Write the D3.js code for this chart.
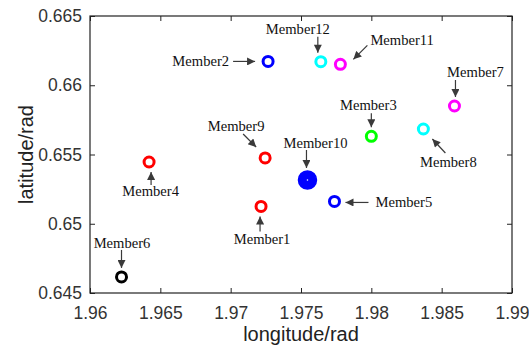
<!DOCTYPE html>
<html>
<head>
<meta charset="utf-8">
<script src="https://cdn.jsdelivr.net/npm/d3@7"></script>
<style>
  html, body { margin: 0; padding: 0; background: #fff; }
  svg { display: block; }
</style>
</head>
<body>
<div id="chart"></div>
<script>
// members
const members = ['Member1','Member2','Member3','Member4','Member5','Member6',
                 'Member7','Member8','Member9','Member10','Member11','Member12'];
const longitude = [1.97216, 1.97266, 1.98000, 1.96420, 1.97738, 1.96224,
                   1.98591, 1.98370, 1.97245, 1.97546, 1.97780, 1.97641];
const latitude  = [0.65125, 0.66172, 0.65631, 0.65446, 0.65161, 0.64616,
                   0.65850, 0.65684, 0.65475, 0.65316, 0.66151, 0.66170];
const colors = ['#ff0000','#0000ff','#00ff00','#ff0000','#0000ff','#000000',
                '#ff00ff','#00ffff','#ff0000','#0000ff','#ff00ff','#00ffff'];
const filled = ['Member10'];

const xTicks = [1.96, 1.965, 1.97, 1.975, 1.98, 1.985, 1.99];
const yTicks = [0.645, 0.65, 0.655, 0.66, 0.665];

// annotation layout (pixel offsets from the point): arrow tail, arrow head, label
const notes = {
  Member1:  { tail: [-1, 25],  head: [-1, 10],  label: [1, 38],    anchor: 'middle' },
  Member2:  { tail: [-35, 0],  head: [-13, 0],  label: [-39, 4.5], anchor: 'end' },
  Member3:  { tail: [0, -23],  head: [0, -9],   label: [-3, -26],  anchor: 'middle' },
  Member4:  { tail: [2, 23],   head: [2, 10],   label: [1.5, 34],  anchor: 'middle' },
  Member5:  { tail: [34, 1],   head: [11, 1],   label: [41, 5.5],  anchor: 'start' },
  Member6:  { tail: [0, -27],  head: [0, -9],   label: [0.5, -29], anchor: 'middle' },
  Member7:  { tail: [1, -26],  head: [1, -9],   label: [21, -29],  anchor: 'middle' },
  Member8:  { tail: [22, 24],  head: [9, 10],   label: [25, 38],   anchor: 'middle' },
  Member9:  { tail: [-22, -24],head: [-9, -11], label: [-29, -27], anchor: 'middle' },
  Member10: { tail: [-1, -30], head: [-1, -12], label: [8, -32],   anchor: 'middle' },
  Member11: { tail: [27, -19], head: [13, -5],  label: [30, -19],  anchor: 'start' },
  Member12: { tail: [-3, -25], head: [-3, -9],  label: [-23, -28], anchor: 'middle' }
};

const width = 529, height = 349;
const margin = { top: 16, right: 17, bottom: 56, left: 90 };
const w = width - margin.left - margin.right;
const h = height - margin.top - margin.bottom;

const data = members.map((m, i) => ({ name: m, x: longitude[i], y: latitude[i], color: colors[i] }));

const svg = d3.select('#chart').append('svg')
  .attr('width', width)
  .attr('height', height);

svg.append('defs').append('marker')
  .attr('id', 'arrow')
  .attr('viewBox', '0 0 10 10')
  .attr('refX', 10).attr('refY', 5)
  .attr('markerWidth', 10).attr('markerHeight', 8)
  .attr('markerUnits', 'userSpaceOnUse')
  .attr('orient', 'auto')
  .append('path')
  .attr('d', 'M0,0L10,5L0,10Z')
  .attr('fill', '#3a3a3a');

const g = svg.append('g').attr('transform', `translate(${margin.left},${margin.top})`);

const x = d3.scaleLinear().domain([1.96, 1.99]).range([0, w]);
const y = d3.scaleLinear().domain([0.645, 0.665]).range([h, 0]);

const fmt = d => String(+d.toFixed(3));
const tickFont = "'Liberation Sans', Arial, sans-serif";

function styleAxis(sel, showText) {
  sel.select('.domain').remove();
  sel.selectAll('.tick line').attr('stroke', '#222').attr('stroke-width', 1);
  sel.selectAll('.tick text')
    .attr('font-family', tickFont)
    .attr('font-size', '17.5px')
    .attr('fill', '#333')
    .style('display', showText ? null : 'none');
}

g.append('g').attr('transform', `translate(0,${h})`)
  .call(d3.axisBottom(x).tickValues(xTicks).tickFormat(fmt).tickSizeInner(-5).tickSizeOuter(0).tickPadding(10))
  .call(s => styleAxis(s, true))
  .call(s => s.selectAll('.tick text').attr('dy', '0.9em'));

g.append('g')
  .call(d3.axisTop(x).tickValues(xTicks).tickSizeInner(-5).tickSizeOuter(0))
  .call(s => styleAxis(s, false));

g.append('g')
  .call(d3.axisLeft(y).tickValues(yTicks).tickFormat(fmt).tickSizeInner(-5).tickSizeOuter(0).tickPadding(8))
  .call(s => styleAxis(s, true));

g.append('g').attr('transform', `translate(${w},0)`)
  .call(d3.axisRight(y).tickValues(yTicks).tickSizeInner(-5).tickSizeOuter(0))
  .call(s => styleAxis(s, false));

g.append('rect')
  .attr('width', w).attr('height', h)
  .attr('fill', 'none')
  .attr('stroke', '#222')
  .attr('stroke-width', 1.2);

// axis titles
svg.append('text')
  .attr('x', margin.left + w / 2)
  .attr('y', 341)
  .attr('text-anchor', 'middle')
  .attr('font-family', tickFont)
  .attr('font-size', '20px')
  .attr('fill', '#222')
  .text('longitude/rad');

svg.append('text')
  .attr('transform', `translate(33,${margin.top + h / 2}) rotate(-90)`)
  .attr('text-anchor', 'middle')
  .attr('font-family', tickFont)
  .attr('font-size', '20px')
  .attr('fill', '#222')
  .text('latitude/rad');

// annotations
const ann = g.append('g');
data.forEach(d => {
  const n = notes[d.name];
  const px = x(d.x), py = y(d.y);
  ann.append('line')
    .attr('x1', px + n.tail[0]).attr('y1', py + n.tail[1])
    .attr('x2', px + n.head[0]).attr('y2', py + n.head[1])
    .attr('stroke', '#3a3a3a')
    .attr('stroke-width', 1.2)
    .attr('marker-end', 'url(#arrow)');
  ann.append('text')
    .attr('x', px + n.label[0]).attr('y', py + n.label[1])
    .attr('text-anchor', n.anchor)
    .attr('font-family', "'Liberation Serif', 'Times New Roman', serif")
    .attr('font-size', '14.6px')
    .attr('fill', '#111')
    .text(d.name);
});

// points
g.append('g').selectAll('circle')
  .data(data)
  .join('circle')
  .attr('cx', d => x(d.x))
  .attr('cy', d => y(d.y))
  .attr('r', d => filled.includes(d.name) ? 9 : 5)
  .attr('fill', d => filled.includes(d.name) ? d.color : '#fff')
  .attr('stroke', d => d.color)
  .attr('stroke-width', d => filled.includes(d.name) ? 1.5 : 3);

g.append('g').selectAll('circle')
  .data(data.filter(d => filled.includes(d.name)))
  .join('circle')
  .attr('cx', d => x(d.x))
  .attr('cy', d => y(d.y))
  .attr('r', 0.8)
  .attr('fill', '#fff');
</script>
</body>
</html>
